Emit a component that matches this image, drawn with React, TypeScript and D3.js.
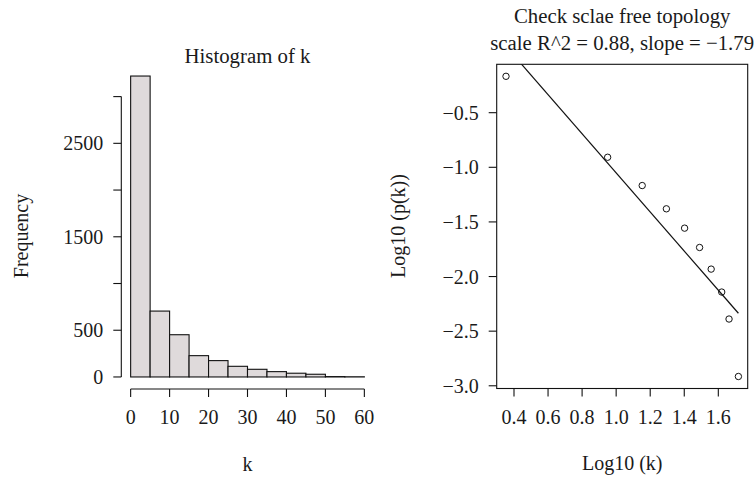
import React from "react";
import * as d3 from "d3";

// Degree distribution: histogram of connectivity k (bins of width 5)
const binStarts = [0, 5, 10, 15, 20, 25, 30, 35, 40, 45, 50, 55];
const binWidth = 5;
const binCounts = [3220, 705, 452, 228, 175, 114, 82, 57, 40, 29, 4, 2];
const histXTicks = [0, 10, 20, 30, 40, 50, 60];
const histYTicks = [0, 500, 1000, 1500, 2000, 2500, 3000];
const histYLabelled = [0, 500, 1500, 2500];

// Scale-free topology check: log10 of mean k per bin vs log10 of p(k)
const logK = [0.353, 0.95, 1.153, 1.295, 1.402, 1.49, 1.558, 1.62, 1.663, 1.718];
const logPk = [-0.167, -0.908, -1.167, -1.38, -1.557, -1.734, -1.932, -2.142, -2.389, -2.915];
const fitIntercept = 0.739;
const fitSlope = -1.79;
const fitR2 = 0.88;
const sfXTicks = [0.4, 0.6, 0.8, 1.0, 1.2, 1.4, 1.6];
const sfYTicks = [-0.5, -1.0, -1.5, -2.0, -2.5, -3.0];

const FONT = "'Liberation Serif', 'Times New Roman', serif";
const FS = 20;
const FS_TITLE = 20.8;
const TICK = 8;

// R-style 4% padding around a data range
const pad = (lo: number, hi: number): [number, number] => {
  const d = (hi - lo) * 0.04;
  return [lo - d, hi + d];
};

const fmtMinus = (v: number, digits: number) =>
  v < 0 ? "\u2212" + Math.abs(v).toFixed(digits) : v.toFixed(digits);

export default function App() {
  // ---------- histogram panel ----------
  const hx0 = 121.3, hx1 = 373.7, hy0 = 64, hy1 = 389;
  const histMax = d3.max(binCounts) as number;
  const xH = d3.scaleLinear().domain(pad(0, 60)).range([hx0, hx1]);
  const yH = d3.scaleLinear().domain(pad(0, histMax)).range([hy1, hy0]);

  // ---------- scale-free panel ----------
  const sx0 = 496.7, sx1 = 747.7, sy0 = 64.3, sy1 = 388.5;
  const xExt = d3.extent(logK) as [number, number];
  const yExt = d3.extent(logPk) as [number, number];
  const xS = d3.scaleLinear().domain(pad(xExt[0], xExt[1])).range([sx0, sx1]);
  const yS = d3.scaleLinear().domain(pad(yExt[0], yExt[1])).range([sy1, sy0]);
  const fitLine = d3
    .line<number>()
    .x((v) => xS(v))
    .y((v) => yS(fitIntercept + fitSlope * v))([xExt[0], xExt[1]]);

  const textStyle = { fontFamily: FONT, fontSize: FS, fill: "#1a1a1a" };
  const titleStyle = { ...textStyle, fontSize: FS_TITLE };

  return (
    <svg
      width={755}
      height={480}
      style={{ position: "absolute", left: 0, top: 0, display: "block", background: "#fff" }}
    >
      <defs>
        <clipPath id="sfClip">
          <rect x={sx0} y={sy0} width={sx1 - sx0} height={sy1 - sy0} />
        </clipPath>
      </defs>

      {/* Histogram of k */}
      <text x={(hx0 + hx1) / 2} y={62.5} textAnchor="middle" {...titleStyle}>
        Histogram of k
      </text>
      {binCounts.map((c, i) => (
        <rect
          key={i}
          x={xH(binStarts[i])}
          y={yH(c)}
          width={xH(binStarts[i] + binWidth) - xH(binStarts[i])}
          height={yH(0) - yH(c)}
          fill="#dfdadb"
          stroke="#111"
          strokeWidth={1.1}
        />
      ))}
      {/* y axis */}
      <line
        x1={hx0}
        x2={hx0}
        y1={yH(histYTicks[0])}
        y2={yH(histYTicks[histYTicks.length - 1])}
        stroke="#111"
        strokeWidth={1.1}
      />
      {histYTicks.map((t) => (
        <line key={t} x1={hx0 - TICK} x2={hx0} y1={yH(t)} y2={yH(t)} stroke="#111" strokeWidth={1.1} />
      ))}
      {histYLabelled.map((t) => (
        <text key={t} x={hx0 - 18} y={yH(t) + 7} textAnchor="end" {...textStyle}>
          {t}
        </text>
      ))}
      {/* x axis */}
      <line
        x1={xH(histXTicks[0])}
        x2={xH(histXTicks[histXTicks.length - 1])}
        y1={hy1}
        y2={hy1}
        stroke="#111"
        strokeWidth={1.1}
      />
      {histXTicks.map((t) => (
        <g key={t}>
          <line x1={xH(t)} x2={xH(t)} y1={hy1} y2={hy1 + TICK} stroke="#111" strokeWidth={1.1} />
          <text x={xH(t)} y={424} textAnchor="middle" {...textStyle}>
            {t}
          </text>
        </g>
      ))}
      <text x={(hx0 + hx1) / 2} y={471} textAnchor="middle" {...textStyle}>
        k
      </text>
      <text
        transform={`translate(28,236) rotate(-90)`}
        textAnchor="middle"
        {...textStyle}
      >
        Frequency
      </text>

      {/* Scale-free topology check */}
      <text x={(sx0 + sx1) / 2} y={23} textAnchor="middle" {...titleStyle}>
        Check sclae free topology
      </text>
      <text x={(sx0 + sx1) / 2} y={49.5} textAnchor="middle" {...titleStyle}>
        {`scale R^2 = ${fitR2.toFixed(2)}, slope = ${fmtMinus(fitSlope, 2)}`}
      </text>
      <rect
        x={sx0}
        y={sy0}
        width={sx1 - sx0}
        height={sy1 - sy0}
        fill="none"
        stroke="#111"
        strokeWidth={1.1}
      />
      <path d={fitLine ?? ""} clipPath="url(#sfClip)" fill="none" stroke="#111" strokeWidth={1.2} />
      {logK.map((v, i) => (
        <circle key={i} cx={xS(v)} cy={yS(logPk[i])} r={3.2} fill="none" stroke="#111" strokeWidth={1} />
      ))}
      {/* x axis */}
      <line
        x1={xS(sfXTicks[0])}
        x2={xS(sfXTicks[sfXTicks.length - 1])}
        y1={sy1}
        y2={sy1}
        stroke="#111"
        strokeWidth={1.1}
      />
      {sfXTicks.map((t) => (
        <g key={t}>
          <line x1={xS(t)} x2={xS(t)} y1={sy1} y2={sy1 + TICK} stroke="#111" strokeWidth={1.1} />
          <text x={xS(t)} y={424} textAnchor="middle" {...textStyle}>
            {t.toFixed(1)}
          </text>
        </g>
      ))}
      <text x={(sx0 + sx1) / 2} y={470} textAnchor="middle" {...textStyle}>
        Log10 (k)
      </text>
      {/* y axis */}
      {sfYTicks.map((t) => (
        <g key={t}>
          <line x1={sx0 - TICK} x2={sx0} y1={yS(t)} y2={yS(t)} stroke="#111" strokeWidth={1.1} />
          <text x={sx0 - 18} y={yS(t) + 7} textAnchor="end" {...textStyle}>
            {fmtMinus(t, 1)}
          </text>
        </g>
      ))}
      <text
        transform={`translate(405,226) rotate(-90)`}
        textAnchor="middle"
        {...textStyle}
      >
        Log10 (p(k))
      </text>
    </svg>
  );
}
